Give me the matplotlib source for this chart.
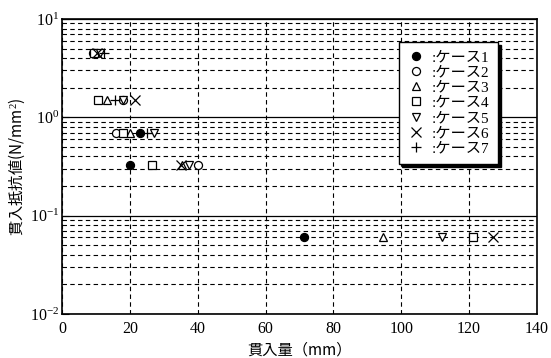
import matplotlib
matplotlib.use("Agg")
import matplotlib.pyplot as plt
from matplotlib.ticker import LogLocator, NullFormatter
from matplotlib.patches import Rectangle

plt.rcParams['font.family'] = ['Liberation Serif', 'Noto Sans CJK JP']
plt.rcParams['mathtext.fontset'] = 'custom'
plt.rcParams['mathtext.rm'] = 'Liberation Serif'
plt.rcParams['mathtext.it'] = 'Liberation Serif:italic'

case_labels = [':ケース1', ':ケース2', ':ケース3', ':ケース4', ':ケース5', ':ケース6', ':ケース7']
case_markers = ['o', 'o', '^', 's', 'v', 'x', '+']
case_filled = [True, False, False, False, False, False, False]

case1_x = [9.0, 23.0, 20.0, 71.3]
case1_y = [4.5, 0.7, 0.33, 0.06]
case2_x = [9.5, 18.0, 16.0, 40.0]
case2_y = [4.5, 1.5, 0.7, 0.33]
case3_x = [9.8, 13.2, 20.0, 35.5, 94.7]
case3_y = [4.5, 1.5, 0.7, 0.33, 0.06]
case4_x = [9.5, 10.7, 18.0, 26.5, 121.2]
case4_y = [4.5, 1.5, 0.7, 0.33, 0.06]
case5_x = [11.2, 18.1, 27.0, 37.5, 112.0]
case5_y = [4.5, 1.5, 0.7, 0.33, 0.06]
case6_x = [10.2, 21.5, 35.0, 126.9]
case6_y = [4.5, 1.5, 0.33, 0.06]
case7_x = [12.4, 15.6, 25.0]
case7_y = [4.5, 1.5, 0.7]

xs = [case1_x, case2_x, case3_x, case4_x, case5_x, case6_x, case7_x]
ys = [case1_y, case2_y, case3_y, case4_y, case5_y, case6_y, case7_y]

x_ticks = [0, 20, 40, 60, 80, 100, 120, 140]

fig = plt.figure(figsize=(5.51, 3.58), dpi=100)
ax = fig.add_axes([0.1125, 0.123, 0.862, 0.824])

ax.set_yscale('log')
ax.set_xlim(0, 140)
ax.set_ylim(0.01, 10)
ax.set_xticks(x_ticks)
ax.yaxis.set_major_locator(LogLocator(base=10, numticks=10))
ax.yaxis.set_minor_locator(LogLocator(base=10, subs=range(2, 10), numticks=20))
ax.yaxis.set_minor_formatter(NullFormatter())

ax.grid(True, which='major', axis='y', color='black', linestyle='-', linewidth=0.9)
ax.grid(True, which='minor', axis='y', color='black', linestyle=(0, (4, 3)), linewidth=0.8)
ax.grid(True, which='major', axis='x', color='black', linestyle=(0, (4, 3)), linewidth=0.8)
ax.set_axisbelow(True)

ax.tick_params(axis='both', which='both', direction='in', labelsize=11.5)
ax.tick_params(axis='x', which='both', length=0, pad=5)
ax.tick_params(axis='y', which='major', length=5, pad=2)
ax.tick_params(axis='y', which='minor', length=3)
for s in ax.spines.values():
    s.set_linewidth(1.2)

handles = []
for x, y, m, f, lab in zip(xs, ys, case_markers, case_filled, case_labels):
    if m in ('x', '+'):
        h, = ax.plot(x, y, linestyle='none', marker=m, color='black', markersize=6.5,
                     markeredgewidth=0.9, label=lab, zorder=3)
    else:
        h, = ax.plot(x, y, linestyle='none', marker=m, markersize=5.8,
                     markerfacecolor='black' if f else 'white', markeredgecolor='black',
                     markeredgewidth=0.9, label=lab, zorder=3)
    handles.append(h)

leg = ax.legend(handles=handles, loc='upper right', bbox_to_anchor=(0.918, 0.922),
                frameon=True, fancybox=False, shadow=False, fontsize=11,
                handlelength=1.1, handletextpad=0.5, labelspacing=0.1,
                borderpad=0.55, borderaxespad=0)
leg.get_frame().set_edgecolor('black')
leg.get_frame().set_linewidth(1.0)
leg.get_frame().set_facecolor('white')
leg.get_frame().set_alpha(1)
leg.set_zorder(5)

fig.canvas.draw()
bb = leg.get_window_extent().transformed(fig.transFigure.inverted())
dx, dy = 3 / 551, -3 / 358
shadow = Rectangle((bb.x0 + dx, bb.y0 + dy), bb.width, bb.height, transform=fig.transFigure,
                   facecolor='black', edgecolor='black', zorder=4)
shadow.set_clip_on(False)
ax.add_artist(shadow)

ax.set_xlabel('貫入量（mm）', family=['Noto Sans CJK JP', 'Liberation Serif'],
              fontsize=11, labelpad=3)
ax.set_ylabel('貫入抵抗値(N/mm$^{2}$)', family=['Noto Sans CJK JP', 'Liberation Serif'],
              fontsize=11, labelpad=2)

fig.savefig('out.png', dpi=100)
